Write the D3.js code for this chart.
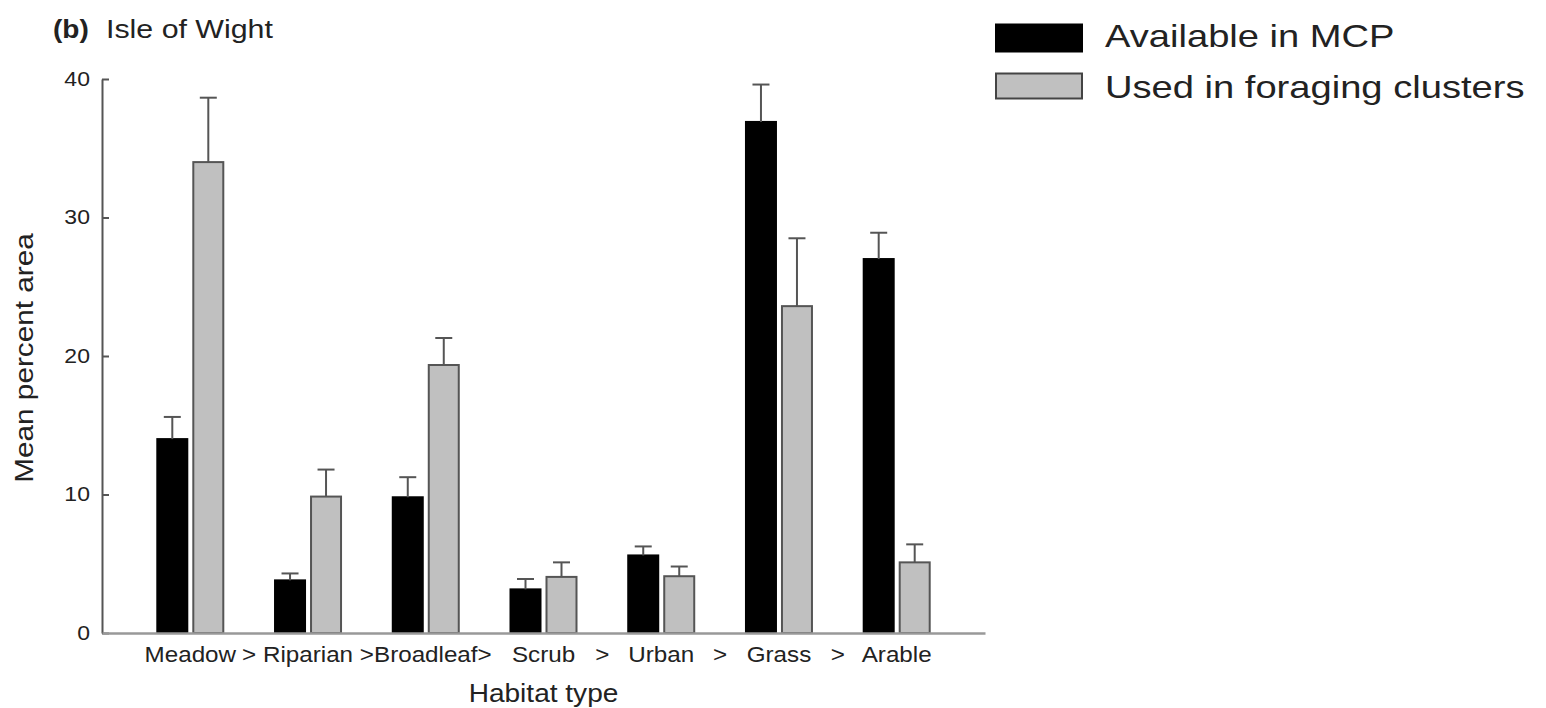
<!DOCTYPE html>
<html>
<head>
<meta charset="utf-8">
<script src="https://cdn.jsdelivr.net/npm/d3@7"></script>
<style>
  body { margin: 0; background: #fff; }
  svg { display: block; font-family: "Liberation Sans", Arial, sans-serif; }
  text { fill: #222; }
</style>
</head>
<body>
<svg id="chart" width="1546" height="708"></svg>
<script>
// habitat categories, ranked (">" between them)
var categories = ["Meadow", "Riparian", "Broadleaf", "Scrub", "Urban", "Grass", "Arable"];
var seriesNames = ["Available in MCP", "Used in foraging clusters"];

// mean percent area and standard error
var availableMean = [14.0, 3.8, 9.8, 3.15, 5.6, 36.9, 27.0];
var availableSE   = [1.6, 0.5, 1.45, 0.75, 0.65, 2.7, 1.9];
var usedMean      = [34.0, 9.85, 19.35, 4.05, 4.1, 23.6, 5.1];
var usedSE        = [4.65, 1.95, 1.95, 1.05, 0.7, 4.9, 1.3];

var yTicks = [0, 10, 20, 30, 40];

var fills   = ["#000000", "#c0c0c0"];
var strokes = ["#000000", "#555555"];

var svg = d3.select("#chart");

var margin = { left: 102, right: 985, top: 79, bottom: 633 };

var y = d3.scaleLinear().domain([0, 40]).range([margin.bottom, margin.top]);

var x0 = d3.scaleBand()
    .domain(categories)
    .range([margin.left, margin.right])
    .paddingInner(0)
    .paddingOuter(0.25);

// two bars 30px wide with a 6px gap, centred in each band
var groupW = 66;
var x1 = d3.scaleBand()
    .domain(seriesNames)
    .range([(x0.bandwidth() - groupW) / 2, (x0.bandwidth() + groupW) / 2])
    .paddingInner(1 / 6);

// flatten to one row per bar
var rows = [];
categories.forEach(function(c, i) {
  rows.push({ cat: c, s: seriesNames[0], k: 0, v: availableMean[i], se: availableSE[i] });
  rows.push({ cat: c, s: seriesNames[1], k: 1, v: usedMean[i], se: usedSE[i] });
});

// small helper, the figure's lettering is a bit wide
function label(g, x, yy, txt, fs, sx, anchor) {
  return g.append("text")
    .attr("transform", "translate(" + x + "," + yy + ") scale(" + sx + ",1)")
    .attr("text-anchor", anchor || "start")
    .style("font-size", fs + "px")
    .text(txt);
}

// bars
svg.append("g").selectAll("rect")
  .data(rows)
  .enter().append("rect")
    .attr("x", function(d) { return x0(d.cat) + x1(d.s); })
    .attr("y", function(d) { return y(d.v); })
    .attr("width", x1.bandwidth())
    .attr("height", function(d) { return y(0) - y(d.v); })
    .style("fill", function(d) { return fills[d.k]; })
    .style("stroke", function(d) { return strokes[d.k]; })
    .style("stroke-width", "2px");

// error bars (upper only)
var err = svg.append("g").selectAll("g")
  .data(rows)
  .enter().append("g")
    .attr("transform", function(d) { return "translate(" + (x0(d.cat) + x1(d.s) + x1.bandwidth() / 2) + ",0)"; })
    .style("stroke", "#555")
    .style("stroke-width", "2px");

err.append("line")
  .attr("x1", 0).attr("x2", 0)
  .attr("y1", function(d) { return y(d.v); })
  .attr("y2", function(d) { return y(d.v + d.se); });

err.append("line")
  .attr("x1", -8.5).attr("x2", 8.5)
  .attr("y1", function(d) { return y(d.v + d.se); })
  .attr("y2", function(d) { return y(d.v + d.se); });

// y axis, ticks pointing inward
var yAxis = svg.append("g")
  .attr("transform", "translate(" + margin.left + ",0)")
  .call(d3.axisLeft(y).tickValues(yTicks).tickSize(-7).tickSizeOuter(0).tickPadding(10.5));
yAxis.select(".domain").style("stroke", "#555").style("stroke-width", "2px");
yAxis.selectAll(".tick line").style("stroke", "#555").style("stroke-width", "2px");
yAxis.selectAll(".tick text")
  .attr("transform", "scale(1.15,1)")
  .style("font-size", "20px")
  .style("font-family", "Liberation Sans, Arial, sans-serif")
  .style("fill", "#222");

// x axis
var xAxis = svg.append("g")
  .attr("transform", "translate(0," + margin.bottom + ")")
  .call(d3.axisBottom(x0).tickSize(0).tickPadding(13));
xAxis.select(".domain").style("stroke", "#999").style("stroke-width", "2.5px");
xAxis.selectAll(".tick text")
  .attr("transform", "scale(1.1,1)")
  .style("font-size", "22px")
  .style("font-family", "Liberation Sans, Arial, sans-serif")
  .style("fill", "#222");

// ranking separators between the habitats
var sep = svg.append("g");
categories.slice(0, -1).forEach(function(c) {
  label(sep, x0(c) + x0.step(), 662, ">", 22, 1.1, "middle");
});

// axis titles
var titles = svg.append("g");
label(titles, (margin.left + margin.right) / 2, 702, "Habitat type", 25.5, 1.1, "middle");
svg.append("text")
  .attr("transform", "translate(33,358) rotate(-90) scale(1.19,1)")
  .attr("text-anchor", "middle")
  .style("font-size", "25px")
  .text("Mean percent area");

// panel title
label(titles, 53, 38, "(b)", 25.5, 1.1).style("font-weight", "bold");
label(titles, 106, 38, "Isle of Wight", 25.5, 1.19);

// legend
var legend = svg.append("g").attr("transform", "translate(995,0)");
var legendY = [23.5, 73.5];
var legendBase = [47, 98];
seriesNames.forEach(function(s, i) {
  legend.append("rect")
    .attr("x", i === 0 ? 0 : 1)
    .attr("y", legendY[i])
    .attr("width", i === 0 ? 88 : 86)
    .attr("height", i === 0 ? 29 : 25)
    .style("fill", fills[i])
    .style("stroke", i === 0 ? "none" : "#444")
    .style("stroke-width", "2px");
  label(legend, 110, legendBase[i], s, 30.5, 1.25);
});
</script>
</body>
</html>
